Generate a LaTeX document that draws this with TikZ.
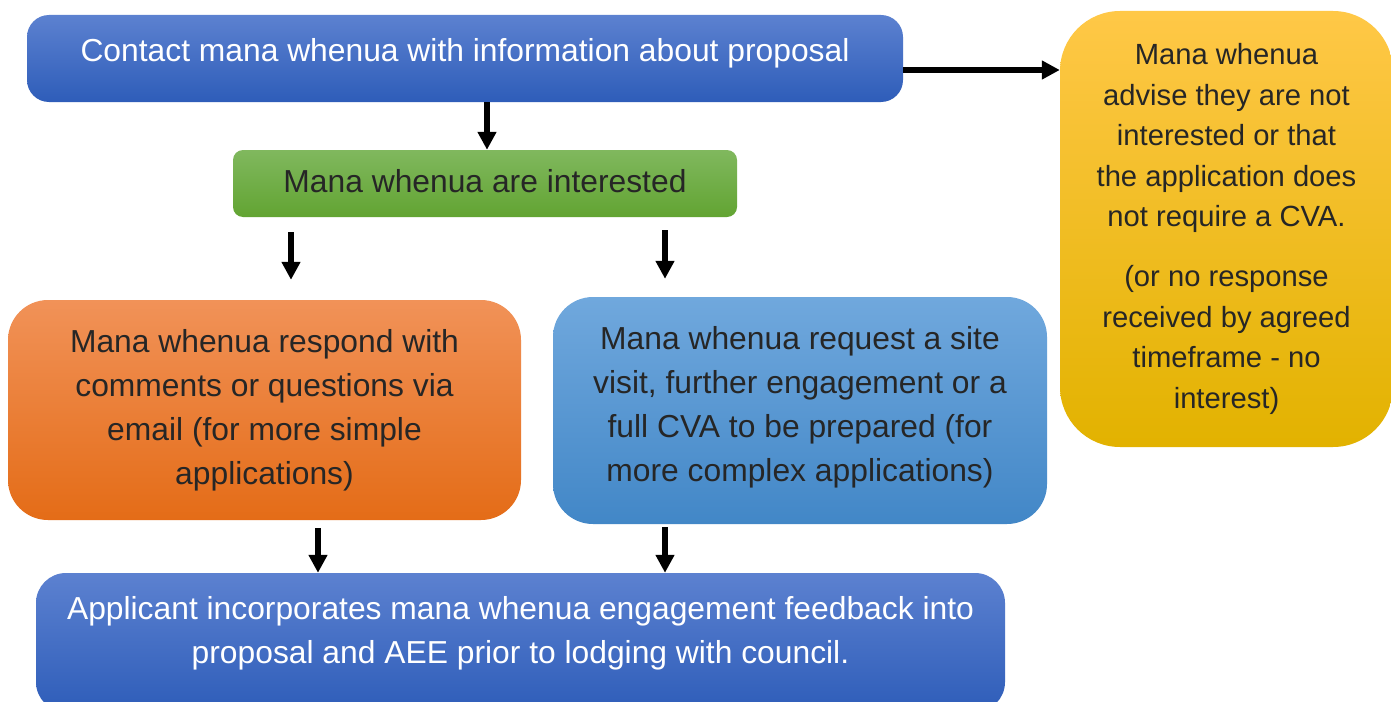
\documentclass[tikz,border=0pt]{standalone}
\usepackage{fontspec}
\setmainfont{Liberation Sans}
\usetikzlibrary{arrows.meta}
\definecolor{txtdark}{HTML}{262626}
\tikzset{
  box/.style={inner sep=0pt, align=center, draw=none},
  bluebox/.style={box, top color=bTop, bottom color=bBot, text=white, rounded corners=22pt},
  arr/.style={line width=5.5pt, -{Triangle[length=18pt,width=18pt]}},
  big/.style={font=\fontsize{31.8}{44}\selectfont},
  small/.style={font=\fontsize{29.2}{40.5}\selectfont},
}
\definecolor{bTop}{HTML}{5C81D0}
\definecolor{bBot}{HTML}{2E5DB9}
\definecolor{gTop}{HTML}{80B85E}
\definecolor{gBot}{HTML}{62A432}
\definecolor{oTop}{HTML}{F19258}
\definecolor{oBot}{HTML}{E46C17}
\definecolor{lTop}{HTML}{70A8DD}
\definecolor{lBot}{HTML}{4287C7}
\definecolor{yTop}{HTML}{FFC847}
\definecolor{yMid}{HTML}{FFC000}
\definecolor{yBot}{HTML}{E2B200}
\begin{document}
\begin{tikzpicture}[x=1pt,y=-1pt]
\useasboundingbox (0,0) rectangle (1391,701);
\clip (0,0) rectangle (1391,701);
\fill[white] (0,0) rectangle (1391,701);

\node[bluebox, big, minimum width=876pt, minimum height=87pt] (top) at (465,58.5)
  {\raisebox{18pt}{Contact mana whenua with information about proposal}};

\node[box, big, text=txtdark, top color=gTop, bottom color=gBot, rounded corners=10pt,
  minimum width=504pt, minimum height=67pt] (green) at (485,183.5)
  {\raisebox{5pt}{Mana whenua are interested}};

\node[box, small, text=txtdark, top color=yTop, middle color=yMid, bottom color=yBot,
  rounded corners=60pt, minimum width=333pt, minimum height=436pt] (yellow) at (1226.5,229)
  {Mana whenua\\advise they are not\\interested or that\\the application does\\not require a CVA.\\[19.5pt]
   (or no response\\received by agreed\\timeframe - no\\interest)};

\node[box, big, text=txtdark, top color=oTop, bottom color=oBot, rounded corners=40pt,
  minimum width=513pt, minimum height=220pt] (orange) at (264.5,410)
  {Mana whenua respond with\\comments or questions via\\email (for more simple\\applications)};

\node[box, big, text=txtdark, top color=lTop, bottom color=lBot, rounded corners=40pt,
  minimum width=494pt, minimum height=227pt] (light) at (800,410.5)
  {\raisebox{0pt}[\height][\dimexpr\depth+8pt\relax]{\begin{tabular}{@{}c@{}}Mana whenua request a site\\visit, further engagement or a\\full CVA to be prepared (for\\more complex applications)\end{tabular}}};

\node[bluebox, big, rounded corners=30pt, minimum width=969pt, minimum height=139pt] (bottom) at (520.5,642.5)
  {\raisebox{0pt}[\height][\dimexpr\depth+20pt\relax]{\begin{tabular}{@{}c@{}}Applicant incorporates mana whenua engagement feedback into\\proposal and AEE prior to lodging with council.\end{tabular}}};

\draw[arr] ([yshift=-11.5pt]top.east) -- ([yshift=-11.5pt]top.east -| yellow.west);
\draw[arr] ([xshift=2pt]green.north |- top.south) -- ([xshift=2pt]green.north);
\draw[arr] ([xshift=-194pt,yshift=-15pt]green.south) -- ([xshift=26.5pt,yshift=20pt]orange.north);
\draw[arr] ([xshift=180pt,yshift=-13pt]green.south) -- ([xshift=-135pt,yshift=18pt]light.north);
\draw[arr] ([xshift=53.5pt,yshift=-8pt]orange.south) -- ([xshift=-202.5pt]bottom.north);
\draw[arr] ([xshift=-135pt,yshift=-3pt]light.south) -- ([xshift=144.5pt]bottom.north);
\end{tikzpicture}
\end{document}
